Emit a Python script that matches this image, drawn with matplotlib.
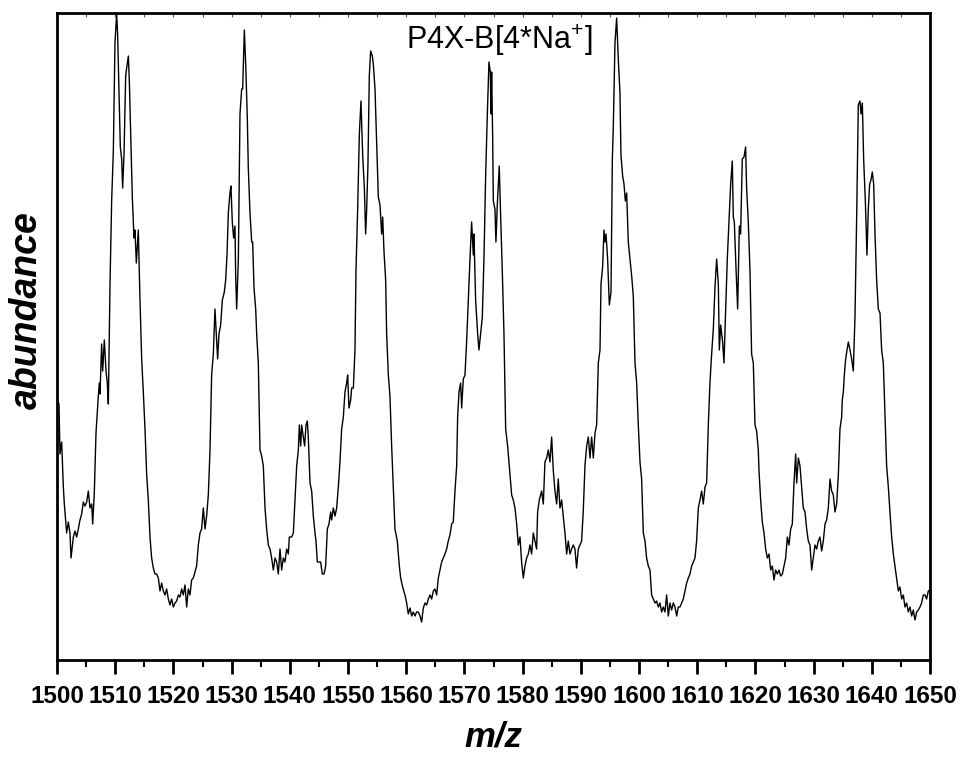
import matplotlib
matplotlib.use("Agg")
import matplotlib.pyplot as plt
from matplotlib.ticker import MultipleLocator

plt.rcParams['font.family'] = ['Liberation Sans', 'DejaVu Sans']
plt.rcParams['mathtext.default'] = 'regular'

# m/z (x) and abundance (arbitrary units), in segments
mz_a = [1500.0, 1500.34, 1500.51, 1500.8, 1501.09, 1501.26, 1501.66, 1501.95, 1502.23, 1502.41,
        1502.81, 1503.09, 1503.38, 1503.66, 1503.95, 1504.24, 1504.52, 1504.81, 1505.1, 1505.38,
        1505.67, 1505.96, 1506.13, 1506.41, 1506.7, 1507.1, 1507.27, 1507.39, 1507.67, 1507.85,
        1508.13, 1508.42, 1508.65, 1508.82, 1509.11, 1509.39, 1509.68, 1509.96, 1510.25, 1510.42,
        1510.65, 1510.88, 1511.11, 1511.28, 1511.51, 1511.8, 1511.97, 1512.26, 1512.43, 1512.71,
        1512.94, 1513.23, 1513.4, 1513.63, 1513.97, 1514.26, 1514.55, 1514.83, 1515.12, 1515.41,
        1515.69, 1515.98, 1516.26, 1516.55, 1516.84, 1517.12, 1517.41, 1517.7, 1517.98, 1518.27,
        1518.55, 1518.84, 1519.13, 1519.41, 1519.7, 1519.99, 1520.27, 1520.56, 1520.85, 1521.13,
        1521.42, 1521.7, 1521.99, 1522.28, 1522.56, 1522.85, 1523.13, 1523.42, 1523.71, 1523.99,
        1524.28, 1524.57, 1524.85, 1525.14, 1525.43, 1525.71, 1526.0, 1526.29, 1526.57, 1526.86,
        1527.14, 1527.37, 1527.6, 1527.83, 1528.12, 1528.41, 1528.75, 1528.98, 1529.21, 1529.44,
        1529.72, 1529.89, 1530.12, 1530.35, 1530.58]
ab_a = [260, 256, 206, 218, 173, 156, 127, 138, 127, 102,
        123, 129, 123, 131, 140, 146, 158, 154, 158, 169,
        152, 156, 136, 167, 227, 264, 277, 266, 316, 289,
        320, 289, 277, 256, 376, 459, 509, 617, 646, 625,
        567, 513, 501, 472, 505, 584, 592, 604, 579, 513,
        463, 422, 430, 397, 430, 360, 301, 268, 231, 185,
        160, 123, 102, 92, 86, 86, 82, 69, 77, 69,
        65, 71, 61, 55, 61, 53, 57, 59, 65, 63,
        71, 65, 75, 53, 71, 65, 80, 82, 88, 94,
        115, 127, 131, 152, 131, 144, 165, 210, 285, 306,
        351, 326, 301, 326, 335, 360, 368, 380, 405, 447,
        467, 474, 438, 422, 434]

mz_b = [1530.7, 1530.87, 1531.16, 1531.44, 1531.73, 1531.9, 1532.19, 1532.42, 1532.7, 1532.87,
        1533.16, 1533.45, 1533.62, 1533.85, 1534.14, 1534.31, 1534.59, 1534.88, 1535.17, 1535.45,
        1535.74, 1536.02, 1536.31, 1536.6, 1536.88, 1537.17, 1537.46, 1537.74, 1538.03, 1538.32,
        1538.6, 1538.89, 1539.17, 1539.46, 1539.75, 1539.92, 1540.32, 1540.61, 1540.89, 1541.18,
        1541.47, 1541.64, 1541.87, 1542.04, 1542.32, 1542.55, 1542.78, 1543.01, 1543.18, 1543.47,
        1543.76, 1544.04, 1544.33, 1544.5, 1544.73, 1545.07, 1545.3, 1545.59, 1545.88, 1546.16,
        1546.45, 1546.73, 1547.02, 1547.19, 1547.48, 1547.77, 1548.05, 1548.34, 1548.62, 1548.91,
        1549.2, 1549.48, 1549.77, 1549.94, 1550.17, 1550.46, 1550.63, 1550.92, 1551.2, 1551.37,
        1551.66, 1551.95, 1552.23, 1552.52, 1552.81, 1553.03, 1553.21, 1553.43, 1553.66, 1553.89,
        1554.18, 1554.35, 1554.64, 1554.92, 1555.21, 1555.5, 1555.78, 1555.96, 1556.18, 1556.47,
        1556.64, 1556.93, 1557.21, 1557.5, 1557.79, 1558.07, 1558.47, 1558.82, 1559.05, 1559.39,
        1559.79, 1560.08]
ab_b = [384, 351, 401, 546, 571, 571, 630, 596, 542, 492,
        447, 418, 418, 372, 351, 326, 297, 210, 204, 194,
        152, 131, 115, 111, 102, 90, 102, 98, 86, 111,
        90, 102, 98, 111, 106, 123, 123, 127, 160, 194,
        210, 235, 214, 235, 223, 214, 235, 239, 223, 177,
        169, 144, 127, 119, 98, 98, 98, 86, 86, 94,
        131, 136, 148, 140, 152, 144, 152, 173, 198, 231,
        243, 268, 277, 285, 252, 260, 272, 272, 310, 389,
        451, 526, 559, 505, 472, 426, 451, 496, 584, 609,
        604, 596, 571, 517, 463, 455, 426, 443, 409, 380,
        326, 285, 264, 214, 173, 131, 119, 94, 82, 73,
        65, 57]

mz_c = [1560.36, 1560.65, 1560.94, 1561.22, 1561.51, 1561.79, 1562.08, 1562.37, 1562.65, 1562.94,
        1563.23, 1563.51, 1563.8, 1564.09, 1564.37, 1564.66, 1564.94, 1565.23, 1565.52, 1565.8,
        1566.09, 1566.38, 1566.66, 1566.95, 1567.23, 1567.52, 1567.81, 1568.09, 1568.38, 1568.67,
        1568.84, 1569.07, 1569.35, 1569.53, 1569.81, 1570.1, 1570.38, 1570.67, 1570.96, 1571.24,
        1571.53, 1571.64, 1571.93, 1572.28, 1572.5, 1572.79, 1573.08, 1573.36, 1573.65, 1573.94,
        1574.22, 1574.45, 1574.57, 1574.68, 1574.85, 1574.97, 1575.25, 1575.42, 1575.65, 1575.99,
        1576.23, 1576.51, 1576.8, 1577.09, 1577.43, 1577.83, 1578.12, 1578.4, 1578.69, 1578.98,
        1579.26, 1579.55, 1579.83, 1580.12, 1580.41, 1580.69, 1580.98, 1581.27, 1581.55, 1581.84,
        1582.13, 1582.41, 1582.58, 1582.87, 1583.27, 1583.56, 1583.84, 1584.13, 1584.42, 1584.7,
        1584.99, 1585.28, 1585.56, 1585.85, 1586.13, 1586.42, 1586.71, 1586.99, 1587.28, 1587.57,
        1587.85, 1588.14, 1588.42, 1588.71, 1589.0, 1589.28, 1589.57, 1589.86, 1590.14, 1590.43]
ab_c = [46, 52, 44, 48, 44, 48, 48, 44, 38, 52,
        57, 55, 61, 65, 61, 69, 71, 65, 82, 90,
        98, 102, 106, 111, 119, 125, 136, 138, 169, 194,
        243, 268, 277, 252, 281, 285, 318, 360, 401, 438,
        405, 426, 360, 326, 310, 326, 343, 401, 484, 546,
        598, 588, 546, 588, 525, 459, 451, 418, 455, 494,
        443, 389, 326, 231, 214, 185, 165, 160, 152, 136,
        115, 123, 98, 82, 94, 102, 106, 115, 106, 127,
        119, 111, 148, 160, 169, 156, 198, 202, 210, 198,
        223, 189, 169, 156, 181, 152, 160, 144, 127, 106,
        119, 106, 111, 115, 111, 92, 111, 115, 119, 150]

mz_d = [1590.72, 1591.01, 1591.29, 1591.58, 1591.86, 1592.15, 1592.44, 1592.72, 1593.01, 1593.3,
        1593.47, 1593.75, 1593.98, 1594.15, 1594.33, 1594.61, 1594.9, 1595.19, 1595.42, 1595.59,
        1595.87, 1596.16, 1596.45, 1596.73, 1596.9, 1597.19, 1597.42, 1597.65, 1597.88, 1598.16,
        1598.45, 1598.74, 1599.02, 1599.31, 1599.6, 1599.88, 1600.17, 1600.45, 1600.74, 1601.03,
        1601.31, 1601.6, 1601.89, 1602.17, 1602.46, 1602.75, 1603.03, 1603.32, 1603.6, 1603.89,
        1604.18, 1604.46, 1604.75, 1605.04, 1605.32, 1605.61, 1605.9, 1606.18, 1606.47, 1606.75,
        1607.04, 1607.33, 1607.61, 1607.9, 1608.19, 1608.47, 1608.76, 1609.05, 1609.33, 1609.62,
        1609.9, 1610.19, 1610.48, 1610.76, 1611.05, 1611.34, 1611.62, 1611.91, 1612.19, 1612.48,
        1612.77, 1613.05, 1613.34, 1613.63, 1613.8, 1614.03, 1614.37, 1614.6, 1614.89, 1615.17,
        1615.52, 1615.75, 1616.03, 1616.2, 1616.38, 1616.66, 1616.95, 1617.24, 1617.46, 1617.75,
        1618.04, 1618.32, 1618.49, 1618.78, 1619.07, 1619.35, 1619.64, 1619.93, 1620.21, 1620.5]
ab_d = [195, 214, 223, 202, 223, 202, 227, 235, 297, 310,
        376, 393, 430, 418, 426, 401, 355, 368, 501, 534,
        617, 642, 600, 567, 505, 484, 476, 459, 467, 418,
        401, 384, 364, 297, 277, 235, 198, 181, 127, 119,
        102, 94, 90, 65, 61, 57, 59, 53, 57, 48,
        53, 48, 65, 44, 57, 50, 57, 53, 44, 53,
        53, 57, 61, 69, 77, 82, 86, 94, 98, 102,
        119, 152, 160, 169, 156, 173, 177, 235, 277, 306,
        331, 372, 401, 376, 310, 335, 318, 297, 351, 401,
        447, 476, 499, 443, 438, 393, 351, 434, 426, 501,
        503, 513, 472, 438, 389, 306, 297, 235, 229, 210]

mz_e = [1620.62, 1620.9, 1621.19, 1621.48, 1621.76, 1622.05, 1622.34, 1622.62, 1622.91, 1623.19,
        1623.48, 1623.77, 1624.05, 1624.34, 1624.63, 1624.91, 1625.2, 1625.49, 1625.77, 1626.06,
        1626.34, 1626.63, 1626.92, 1627.09, 1627.38, 1627.66, 1627.95, 1628.23, 1628.52, 1628.81,
        1629.09, 1629.38, 1629.67, 1629.95, 1630.24, 1630.52, 1630.81, 1631.1, 1631.38, 1631.67,
        1631.96, 1632.24, 1632.53, 1632.82, 1633.1, 1633.39, 1633.67, 1633.96, 1634.25, 1634.53,
        1634.82, 1634.93, 1635.11, 1635.28, 1635.51, 1635.74, 1635.97, 1636.25, 1636.54, 1636.82,
        1637.11, 1637.4, 1637.68, 1637.97, 1638.14, 1638.37, 1638.6, 1638.89, 1639.17, 1639.4,
        1639.63, 1639.86, 1640.09, 1640.32, 1640.55, 1640.83, 1641.12, 1641.41, 1641.69, 1641.98,
        1642.27, 1642.55, 1642.84, 1643.12, 1643.41, 1643.7, 1643.98, 1644.27, 1644.56, 1644.84,
        1645.13, 1645.42, 1645.7, 1645.99, 1646.27, 1646.56, 1646.85, 1647.13, 1647.42, 1647.71,
        1647.99, 1648.28, 1648.56, 1648.85, 1649.14, 1649.42, 1649.71, 1650.0]
ab_e = [189, 160, 138, 127, 111, 102, 106, 90, 94, 80,
        90, 86, 90, 84, 86, 94, 102, 123, 115, 131,
        136, 177, 206, 177, 202, 194, 173, 152, 148, 131,
        119, 115, 90, 102, 115, 111, 119, 123, 109, 119,
        136, 140, 152, 181, 169, 165, 148, 156, 185, 231,
        243, 260, 268, 285, 301, 310, 318, 310, 301, 289,
        343, 443, 555, 559, 546, 557, 501, 459, 405, 451,
        476, 480, 488, 476, 426, 380, 351, 347, 310, 297,
        243, 194, 173, 148, 123, 106, 94, 82, 69, 73,
        61, 65, 53, 57, 48, 53, 44, 50, 40, 48,
        50, 53, 57, 65, 65, 61, 69, 70]

mz = mz_a + mz_b + mz_c + mz_d + mz_e
abundance = ab_a + ab_b + ab_c + ab_d + ab_e

x_ticks = [1500, 1510, 1520, 1530, 1540, 1550, 1560, 1570, 1580, 1590,
           1600, 1610, 1620, 1630, 1640, 1650]
title_text = r'P4X-B[4*Na$^{+}$]'

fig = plt.figure(figsize=(9.6, 7.57), dpi=100)
ax = fig.add_axes([57/960, 1 - 660/757, (930-57)/960, (660-13)/757])
ax.plot(mz, abundance, color='black', linewidth=1.0)

ax.set_xlim(1500, 1650)
ax.set_ylim(0, 647)
ax.set_xticks(x_ticks)
ax.set_xticklabels([str(t) for t in x_ticks], fontweight='bold', fontsize=17.5)
ax.xaxis.set_minor_locator(MultipleLocator(5))
ax.tick_params(axis='x', which='major', direction='out', length=10, width=2, pad=8)
ax.tick_params(axis='x', which='minor', direction='out', length=5, width=1.5)
ax.set_yticks([])
for s in ax.spines.values():
    s.set_linewidth(2)

# small inward ticks on the top edge
top = ax.secondary_xaxis('top')
top.set_xticks(x_ticks)
top.xaxis.set_minor_locator(MultipleLocator(5))
top.tick_params(axis='x', which='both', direction='in', length=3, width=0.8,
                labeltop=False, color='#555555')
top.spines['top'].set_visible(False)

ax.set_xlabel('m/z', fontsize=25, fontweight='bold', fontstyle='italic', labelpad=9)
ax.set_ylabel('abundance', fontsize=27, fontweight='bold', fontstyle='italic')
ax.yaxis.set_label_coords(-0.014, 0.541)

ax.text(0.507, 0.985, title_text, transform=ax.transAxes, ha='center', va='top',
        fontsize=22)

fig.savefig('out.png', dpi=100)
